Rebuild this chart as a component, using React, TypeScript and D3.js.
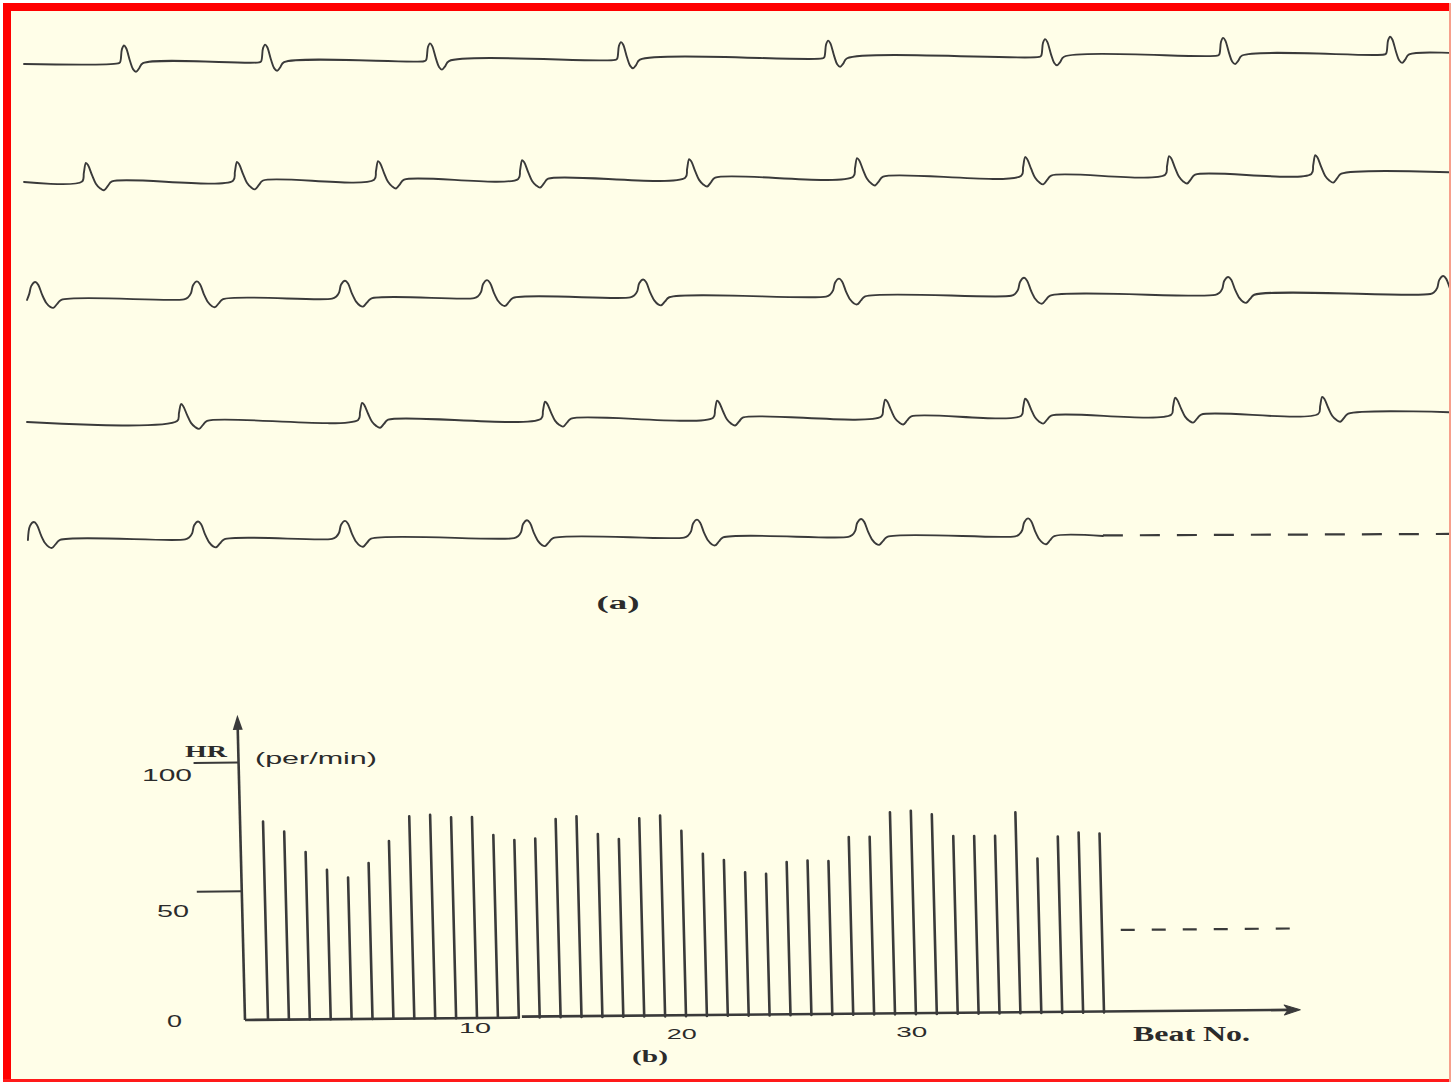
import React from "react";
import * as d3 from "d3";

const W = 1451;
const H = 1082;

// ---------- (a) ECG record: R-peak times (s) per row ----------
const ecgRow1Beats = [0.533, 1.285, 2.164, 3.182, 4.286, 5.442, 6.391, 7.281];
const ecgRow2Beats = [0.33, 1.135, 1.887, 2.655, 3.545, 4.44, 5.336, 6.103, 6.882];
const ecgRow3Beats = [0.06, 0.922, 1.711, 2.468, 3.3, 4.344, 5.33, 6.418, 7.564];
const ecgRow4Beats = [0.837, 1.802, 2.777, 3.694, 4.59, 5.336, 6.135, 6.919];
const ecgRow5Beats = [0.053, 0.928, 1.711, 2.681, 3.587, 4.462, 5.352];
const ecgRows = [ecgRow1Beats, ecgRow2Beats, ecgRow3Beats, ecgRow4Beats, ecgRow5Beats];

const ecgRowAmplitude = [1.18, 1.1, 1.0, 1.0, 1.0];
const ecgRowDriftEnd = [0.62, 0.56, 0.38, 0.56, 0.33]; // mV baseline wander across the row
const ecgRowStart = [0, 0, 0.016, 0.016, 0.021];
const ecgRowEnd = [7.7, 7.7, 7.7, 7.7, 5.75];
const ecgRowShape = ["A", "B", "C", "B", "C"];
const ecgPendingSpan = [5.75, 7.7];

// beat waveforms: offset (ms) and amplitude (mV)
const shapeAms = [-32, -21, -11, 0, 11, 32, 48, 64, 80, 101];
const shapeAmv = [0, 0.06, 0.75, 0.94, 0.81, 0.12, -0.31, -0.45, -0.28, 0];
const shapeBms = [-21, -11, 0, 11, 32, 53, 75, 96, 117, 139];
const shapeBmv = [0, 0.5, 1.06, 0.94, 0.38, -0.12, -0.38, -0.5, -0.25, 0];
const shapeCms = [-69, -48, -32, -21, 0, 16, 37, 59, 80, 96, 117, 139];
const shapeCmv = [0, 0.12, 0.38, 0.88, 1.12, 0.94, 0.31, -0.19, -0.44, -0.5, -0.25, 0];
const shapes: Record<string, [number[], number[]]> = {
  A: [shapeAms, shapeAmv],
  B: [shapeBms, shapeBmv],
  C: [shapeCms, shapeCmv],
};

// ---------- (b) heart rate per beat ----------
const heartRate = [
  77, 73, 65, 58, 55, 60.5, 69, 78.5, 79, 78,
  78, 71, 69, 69.5, 77, 78, 71, 69, 77, 78,
  72, 63, 60.5, 55.7, 55, 59.5, 60, 59.7, 69, 69,
  78.5, 79, 77.5, 69, 69, 69, 78, 60, 68.5, 70,
  69.5,
];
const beatNumbers = heartRate.map((_, i) => i + 1);
const yTickValues = [0, 50, 100];
const yTickLabels = ["0", "50", "100"];
const xTickBeats = [10.9, 20.8, 31.8];
const xTickLabels = ["10", "20", "30"];
const hrPendingLevel = 32;
const hrPendingSpan = [41.9, 50.1];

// ---------- layout ----------
const ecgRowBaseY = [64, 182, 300, 422, 540];
const PX_PER_MV = 16;
const SERIF = "'Liberation Serif', 'DejaVu Serif', serif";
const SANS = "'Liberation Sans', Arial, sans-serif";
const INK = "#3a3a3a";
const TEXT = "#2b2b2b";

const xT = d3.scaleLinear().domain([0, 7.6]).range([24, 1450]);

function rowPoints(r: number): [number, number][] {
  const start = ecgRowStart[r];
  const end = ecgRowEnd[r];
  const drift = d3.scaleLinear().domain([0, 7.6]).range([0, ecgRowDriftEnd[r]]);
  const [ms, mv] = shapes[ecgRowShape[r]];
  const pts: [number, number][] = [[start, drift(start)]];
  ecgRows[r].forEach((b) => {
    ms.forEach((o, k) => {
      const t = b + o / 1000;
      if (t > start && t < end) pts.push([t, drift(t) + ecgRowAmplitude[r] * mv[k]]);
    });
  });
  pts.push([end, drift(end)]);
  pts.sort((a, b) => a[0] - b[0]);
  return pts;
}

// chart (b) scales
const xB = d3.scaleLinear().domain([1, 41]).range([268, 1104]);
const yB = d3.scaleLinear().domain([0, 100]).range([1020, 762.5]);
const X0 = 245;
const Y0 = yB(0);
const SHEAR = 0.025;
const TILT = 0.0087;
const skew = `matrix(1, ${-TILT}, ${SHEAR}, 1, ${-SHEAR * Y0}, ${TILT * X0})`;

export default function App() {
  const ecgPaths = ecgRows.map((_, r) => {
    const yS = d3
      .scaleLinear()
      .domain([0, 1])
      .range([ecgRowBaseY[r], ecgRowBaseY[r] - PX_PER_MV]);
    const line = d3
      .line<[number, number]>()
      .x((d) => xT(d[0]))
      .y((d) => yS(d[1]))
      .curve(d3.curveCatmullRom.alpha(0.5));
    return line(rowPoints(r)) as string;
  });
  const r5 = 4;
  const r5Drift = d3.scaleLinear().domain([0, 7.6]).range([0, ecgRowDriftEnd[r5] + 0.05]);
  const r5Y = (t: number) => ecgRowBaseY[r5] - PX_PER_MV * r5Drift(t);

  const yTop = yB(118.5);
  const xEnd = xB(50.2);
  const gapA = xB(12.95);
  const gapB = xB(13.15);

  const yLabelX = [174.5, 173, 167];
  const yLabelDy = [7, 26, 18.5];
  const yLabelLen = [15, 32, 50];
  const xLabelDy = [1033, 1039, 1037];
  const xLabelLen = [32, 30, 31];

  return (
    <div style={{ position: "absolute", left: 0, top: 0 }}>
      <svg width={W} height={H} style={{ display: "block", background: "#ffffff" }}>
        <defs>
          <clipPath id="inner">
            <rect x={11} y={11} width={1438} height={1068} />
          </clipPath>
        </defs>
        <rect x={3} y={3} width={W - 3} height={H - 3} fill="#fffee8" />

        {/* (a) ECG traces */}
        <g clipPath="url(#inner)" fill="none" stroke={INK} strokeWidth={1.9} strokeLinejoin="round" strokeLinecap="round">
          {ecgPaths.map((d, i) => (
            <path key={i} d={d} />
          ))}
          <line
            x1={xT(ecgPendingSpan[0])}
            x2={xT(ecgPendingSpan[1])}
            y1={r5Y(ecgPendingSpan[0])}
            y2={r5Y(ecgPendingSpan[1])}
            strokeDasharray="20 17"
            strokeLinecap="butt"
            strokeWidth={2.2}
          />
        </g>
        <text x={618} y={609} textAnchor="middle" fontFamily={SERIF} fontWeight="bold" fontSize={18} fill={TEXT} textLength={43} lengthAdjust="spacingAndGlyphs">
          (a)
        </text>

        {/* (b) heart-rate chart */}
        <g transform={skew} stroke={INK} fill="none">
          {/* y axis */}
          <line x1={X0} x2={X0} y1={Y0} y2={yTop + 10} strokeWidth={2.6} />
          <path d={`M${X0},${yTop} L${X0 - 5},${yTop + 15} L${X0 + 5},${yTop + 15} Z`} fill={INK} stroke="none" />
          {yTickValues.filter((v) => v > 0).map((v) => (
            <line key={v} x1={200} x2={X0} y1={yB(v)} y2={yB(v)} strokeWidth={2} />
          ))}
          {/* x axis */}
          <line x1={X0} x2={gapA} y1={Y0} y2={Y0} strokeWidth={2.6} />
          <line x1={gapB} x2={xEnd - 8} y1={Y0 - 1} y2={Y0 - 1} strokeWidth={2.6} />
          <path d={`M${xEnd + 4},${Y0 - 1} L${xEnd - 12},${Y0 - 6} L${xEnd - 8},${Y0 - 1} L${xEnd - 12},${Y0 + 4} Z`} fill={INK} stroke={INK} strokeWidth={1} strokeLinejoin="round" />
          {/* bars */}
          {heartRate.map((v, i) => (
            <line key={i} x1={xB(beatNumbers[i])} x2={xB(beatNumbers[i])} y1={Y0} y2={yB(v)} strokeWidth={2.6} strokeLinecap="round" />
          ))}
          {/* continuation */}
          <line
            x1={xB(hrPendingSpan[0])}
            x2={xB(hrPendingSpan[1])}
            y1={yB(hrPendingLevel)}
            y2={yB(hrPendingLevel)}
            strokeWidth={2.2}
            strokeDasharray="14 17"
          />
        </g>

        {/* y labels */}
        {yTickValues.map((v, i) => (
          <text key={v} x={yLabelX[i]} y={yB(v) + yLabelDy[i]} textAnchor="middle" fontFamily={SANS} fontSize={17} fill={TEXT} textLength={yLabelLen[i]} lengthAdjust="spacingAndGlyphs">
            {yTickLabels[i]}
          </text>
        ))}
        <text x={185} y={757} fontFamily={SERIF} fontWeight="bold" fontSize={17} fill={TEXT} textLength={42} lengthAdjust="spacingAndGlyphs">
          HR
        </text>
        <text x={255} y={764} fontFamily={SANS} fontSize={17} fill={TEXT} textLength={122} lengthAdjust="spacingAndGlyphs">
          (per/min)
        </text>
        {/* x labels */}
        {xTickBeats.map((b, i) => (
          <text key={b} x={xB(b)} y={xLabelDy[i]} textAnchor="middle" fontFamily={SANS} fontSize={15} fill={TEXT} textLength={xLabelLen[i]} lengthAdjust="spacingAndGlyphs">
            {xTickLabels[i]}
          </text>
        ))}
        <text x={632} y={1062} fontFamily={SERIF} fontWeight="bold" fontSize={17} fill={TEXT} textLength={36} lengthAdjust="spacingAndGlyphs">
          (b)
        </text>
        <text x={1133} y={1041} fontFamily={SERIF} fontWeight="bold" fontSize={20} fill={TEXT} textLength={117} lengthAdjust="spacingAndGlyphs">
          Beat No.
        </text>

        {/* red frame */}
        <rect x={3} y={3} width={W - 3} height={8} fill="#ff0000" />
        <rect x={3} y={3} width={8} height={H - 3} fill="#ff0000" />
        <rect x={3} y={1079} width={W - 3} height={3} fill="#ff1a1a" />
        <rect x={1449} y={3} width={2} height={H - 3} fill="#f7a08c" />
      </svg>
    </div>
  );
}
